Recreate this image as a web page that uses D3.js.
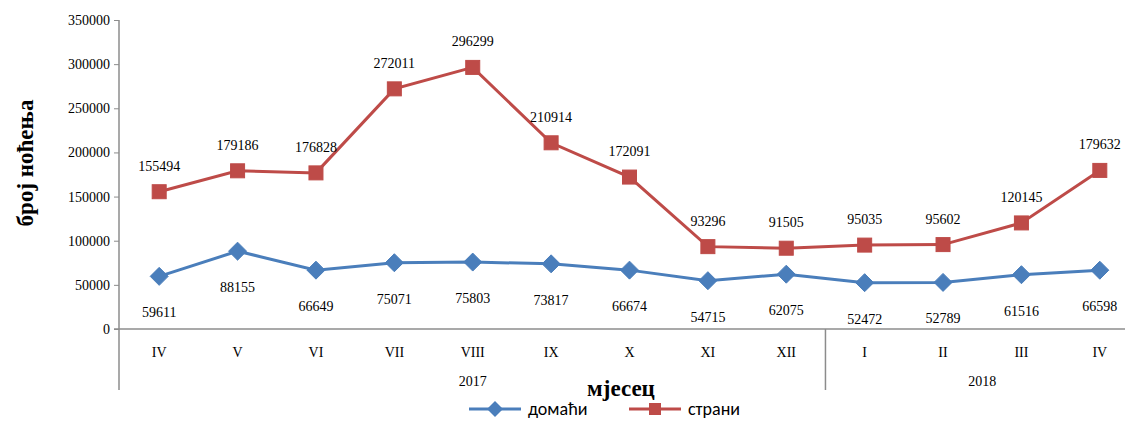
<!DOCTYPE html>
<html><head><meta charset="utf-8">
<script src="https://cdn.jsdelivr.net/npm/d3@7"></script>
<style>body{margin:0;background:#fff;}svg{display:block;}</style>
</head><body>
<svg id="c" width="1125" height="421"></svg>
<script>
const months = ["IV","V","VI","VII","VIII","IX","X","XI","XII","I","II","III","IV"];
const years = [{label:"2017", from:0, to:8},{label:"2018", from:9, to:12}];
const domaci = [59611,88155,66649,75071,75803,73817,66674,54715,62075,52472,52789,61516,66598];
const strani = [155494,179186,176828,272011,296299,210914,172091,93296,91505,95035,95602,120145,179632];
const yTicks = [0,50000,100000,150000,200000,250000,300000,350000];

const svg = d3.select("#c");
const pLeft = 120, pRight = 1139, pTop = 20, pBottom = 329;
const idx = months.map((m,i)=>i);
const x = d3.scaleBand().domain(idx).range([pLeft,pRight]);
const y = d3.scaleLinear().domain([0,350000]).range([pBottom,pTop]);
const cx = i => x(i) + x.bandwidth()/2;
const serif = "'Liberation Serif','DejaVu Serif',serif";
const gray = "#8c8c8c";

// y axis
const ya = svg.append("g").attr("transform",`translate(${pLeft-1},0)`)
  .call(d3.axisLeft(y).tickValues(yTicks).tickSize(5).tickSizeOuter(0).tickFormat(d=>d));
ya.select(".domain").remove();
ya.selectAll(".tick line").attr("stroke",gray);
ya.selectAll(".tick text").attr("font-family",serif).attr("font-size",14).attr("fill","#000").attr("x",-9);
svg.append("line").attr("x1",pLeft-1).attr("x2",pLeft-1).attr("y1",pTop).attr("y2",390).attr("stroke",gray).attr("stroke-width",1.5);
// x axis
svg.append("line").attr("x1",pLeft-6).attr("x2",1125).attr("y1",pBottom).attr("y2",pBottom).attr("stroke",gray).attr("stroke-width",1.5);
// year divider
const divX = x(9);
svg.append("line").attr("x1",divX).attr("x2",divX).attr("y1",pBottom).attr("y2",390).attr("stroke",gray).attr("stroke-width",1.5);
// month labels
svg.selectAll("text.m").data(months).join("text").attr("class","m")
  .attr("x",(d,i)=>cx(i)).attr("y",357).attr("text-anchor","middle")
  .attr("font-family",serif).attr("font-size",14).text(d=>d);
// year labels
svg.selectAll("text.yr").data(years).join("text").attr("class","yr")
  .attr("x",d=>(cx(d.from)+cx(d.to))/2).attr("y",386).attr("text-anchor","middle")
  .attr("font-family",serif).attr("font-size",14).text(d=>d.label);

// axis titles
svg.append("text").attr("x",621).attr("y",396).attr("text-anchor","middle")
  .attr("font-family",serif).attr("font-weight","bold").attr("font-size",23).text("мјесец");
svg.append("text").attr("transform","translate(33,163) rotate(-90)").attr("text-anchor","middle")
  .attr("font-family",serif).attr("font-weight","bold").attr("font-size",23).text("број ноћења");

const blue = "#4A7EBB", red = "#BE4B48";
const line = d3.line().x((d,i)=>cx(i)).y(d=>y(d));
svg.append("path").datum(domaci).attr("d",line).attr("fill","none").attr("stroke",blue).attr("stroke-width",3);
svg.append("path").datum(strani).attr("d",line).attr("fill","none").attr("stroke",red).attr("stroke-width",3);

const diamond = (px,py,r)=>`M${px},${py-r}L${px+r},${py}L${px},${py+r}L${px-r},${py}Z`;
svg.selectAll("path.dm").data(domaci).join("path").attr("class","dm")
  .attr("d",(d,i)=>diamond(cx(i),y(d),9)).attr("fill",blue).attr("stroke",blue).attr("stroke-width",1);
svg.selectAll("rect.sq").data(strani).join("rect").attr("class","sq")
  .attr("x",(d,i)=>cx(i)-7).attr("y",d=>y(d)-7).attr("width",14).attr("height",14).attr("fill",red).attr("stroke",red);

// data labels
svg.selectAll("text.ld").data(domaci).join("text").attr("class","ld")
  .attr("x",(d,i)=>cx(i)).attr("y",d=>y(d)+41).attr("text-anchor","middle")
  .attr("font-family",serif).attr("font-size",14).text(d=>d);
svg.selectAll("text.ls").data(strani).join("text").attr("class","ls")
  .attr("x",(d,i)=>cx(i)).attr("y",d=>y(d)-21).attr("text-anchor","middle")
  .attr("font-family",serif).attr("font-size",14).text(d=>d);

// legend
const sans = "Carlito,'Liberation Sans','DejaVu Sans',sans-serif";
const lg = svg.append("g");
lg.append("line").attr("x1",469).attr("x2",521).attr("y1",409).attr("y2",409).attr("stroke",blue).attr("stroke-width",3);
lg.append("path").attr("d",diamond(495,409,8)).attr("fill",blue);
lg.append("text").attr("x",528).attr("y",415).attr("font-family",sans).attr("font-size",18).text("домаћи");
lg.append("line").attr("x1",629).attr("x2",681).attr("y1",409).attr("y2",409).attr("stroke",red).attr("stroke-width",3);
lg.append("rect").attr("x",649).attr("y",403).attr("width",12).attr("height",12).attr("fill",red);
lg.append("text").attr("x",688).attr("y",415).attr("font-family",sans).attr("font-size",18).text("страни");
</script>
</body></html>
